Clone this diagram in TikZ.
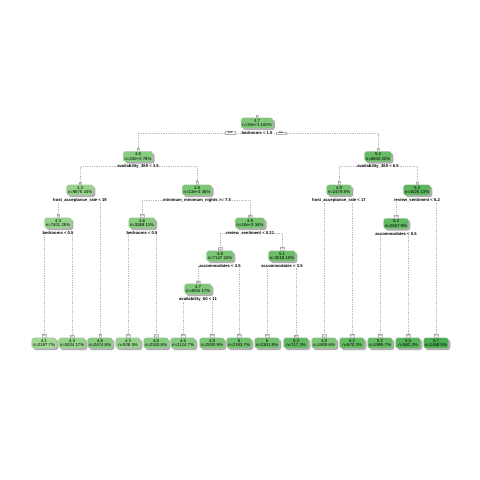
\documentclass[tikz,border=0pt]{standalone}
\usepackage{fontspec}
\setmainfont{Liberation Sans}
\usetikzlibrary{shadows,backgrounds}
\definecolor{lo}{RGB}{160,216,146}
\definecolor{hi}{RGB}{76,174,80}
\definecolor{brc}{RGB}{185,185,185}
\newcommand\nfont{\fontsize{4.3}{4.6}\selectfont}
\newcommand\sfont{\fontsize{4.2}{4.6}\selectfont\bfseries}
\newcommand\numfont{\fontsize{3.2}{3.4}\selectfont}
\tikzset{
  tbox/.style={rounded corners=2.6pt, inner xsep=1.4pt, inner ysep=0.8pt, align=center,
    font=\nfont, draw=gray!45, line width=0.2pt, minimum width=25pt, minimum height=10.5pt,
    drop shadow={shadow xshift=1.8pt, shadow yshift=-1.8pt, fill=gray!75, opacity=0.85}},
  splitlab/.style={font=\sfont, fill=white, inner sep=0.3pt},
  nnum/.style={font=\numfont, text=gray!80!black, draw=gray!50, line width=0.15pt, fill=white, inner sep=0.25pt, anchor=south},
  branch/.style={draw=brc, line width=0.45pt, dash pattern=on 0.5pt off 1.3pt},
  yesno/.style={font=\numfont, draw=gray!60, line width=0.2pt, fill=white, inner xsep=1.5pt, inner ysep=0.4pt, minimum width=10pt},
}
% internal node: name, x, y, value, n, pct, nn, fill pct, split
\newcommand\inode[9]{%
  \node[tbox, fill=hi!#8!lo] (#1) at (#2,#3) {#4\\n=#5 #6\%};
  \node[nnum] (#1n) at ([yshift=0.3pt]#1.north) {#7};
  \node[splitlab] (#1s) at (#2,#3+10) {#9};
}
% leaf node: name, x, y, value, n, pct, nn, fill pct
\newcommand\lnode[8]{%
  \node[tbox, fill=hi!#8!lo] (#1) at (#2,#3) {#4\\n=#5 #6\%};
  \node[nnum] (#1n) at ([yshift=0.3pt]#1.north) {#7};
}
\newcommand\branch[3]{%
  \draw[branch] (#2n.north) -- (#2n.north |- #1s.center) -- (#3n.north |- #1s.center) -- (#3n.north);
}
\begin{document}
\begin{tikzpicture}[x=1pt,y=-1pt]
\useasboundingbox (0,0) rectangle (480,480);
% internal nodes
\inode{r}{257}{123}{4.7}{30e+3}{100}{1}{37}{bedrooms < 1.5}
\inode{a}{138}{156.5}{4.6}{23e+3}{78}{2}{31}{availability\_365 < 3.5}
\inode{b}{378}{156.5}{5.2}{6504}{22}{3}{69}{availability\_365 < 6.5}
\inode{c}{80}{190}{4.3}{9875}{33}{4}{12}{host\_acceptance\_rate < 19}
\inode{d}{197}{190}{4.8}{13e+3}{45}{5}{44}{minimum\_minimum\_nights >= 7.5}
\inode{e}{339}{190}{4.9}{2479}{8}{6}{50}{host\_acceptance\_rate < 17}
\inode{f}{417}{190}{5.4}{4025}{13}{7}{81}{review\_sentiment < 6.2}
\inode{g}{58}{223}{4.3}{7401}{25}{8}{12}{bedrooms < 0.5}
\inode{h}{142}{223}{4.6}{3268}{11}{10}{31}{bedrooms < 0.5}
\inode{i}{250}{223}{4.9}{10e+3}{34}{11}{50}{review\_sentiment < 0.21}
\inode{j}{396}{223.5}{5.3}{2557}{9}{14}{75}{accommodates < 5.5}
\inode{k}{220}{256}{4.8}{7147}{24}{22}{44}{accommodates < 3.5}
\inode{l}{282}{256}{5.1}{3018}{10}{23}{62}{accommodates < 3.5}
\inode{m}{198}{289}{4.7}{4954}{17}{44}{37}{availability\_60 < 11}
% leaves
\lnode{L16}{44}{343}{4.1}{2197}{7}{16}{0}
\lnode{L17}{72}{343}{4.3}{5204}{17}{17}{12}
\lnode{L9}{100}{343}{4.6}{2474}{8}{9}{31}
\lnode{L20}{128}{343}{4.3}{928}{3}{20}{12}
\lnode{L21}{156}{343}{4.6}{2340}{8}{21}{31}
\lnode{L88}{183}{343}{4.6}{2124}{7}{88}{31}
\lnode{L89}{212}{343}{4.8}{2830}{9}{89}{44}
\lnode{L45}{239}{343}{5}{2193}{7}{45}{56}
\lnode{L46}{267}{343}{5}{2301}{8}{46}{56}
\lnode{L47}{296}{343}{5.3}{717}{2}{47}{75}
\lnode{L12}{324}{343}{4.8}{1809}{6}{12}{44}
\lnode{L13}{352}{343}{5.2}{670}{2}{13}{69}
\lnode{L28}{380}{343}{5.2}{1995}{7}{28}{69}
\lnode{L29}{408}{343}{5.5}{562}{2}{29}{87}
\lnode{L15}{436}{343}{5.7}{1468}{5}{15}{100}
% yes / no
\node[yesno] (yes) at (230,133) {yes};
\node[yesno] (no) at (281,133) {no};
\begin{scope}[on background layer]
\fill[white] (0,0) rectangle (480,480);
\branch{r}{a}{b}
\branch{a}{c}{d}
\branch{b}{e}{f}
\branch{c}{g}{L9}
\branch{d}{h}{i}
\branch{e}{L12}{L13}
\branch{f}{j}{L15}
\branch{g}{L16}{L17}
\branch{h}{L20}{L21}
\branch{i}{k}{l}
\branch{j}{L28}{L29}
\branch{k}{m}{L45}
\branch{l}{L46}{L47}
\branch{m}{L88}{L89}
\end{scope}
\end{tikzpicture}
\end{document}
